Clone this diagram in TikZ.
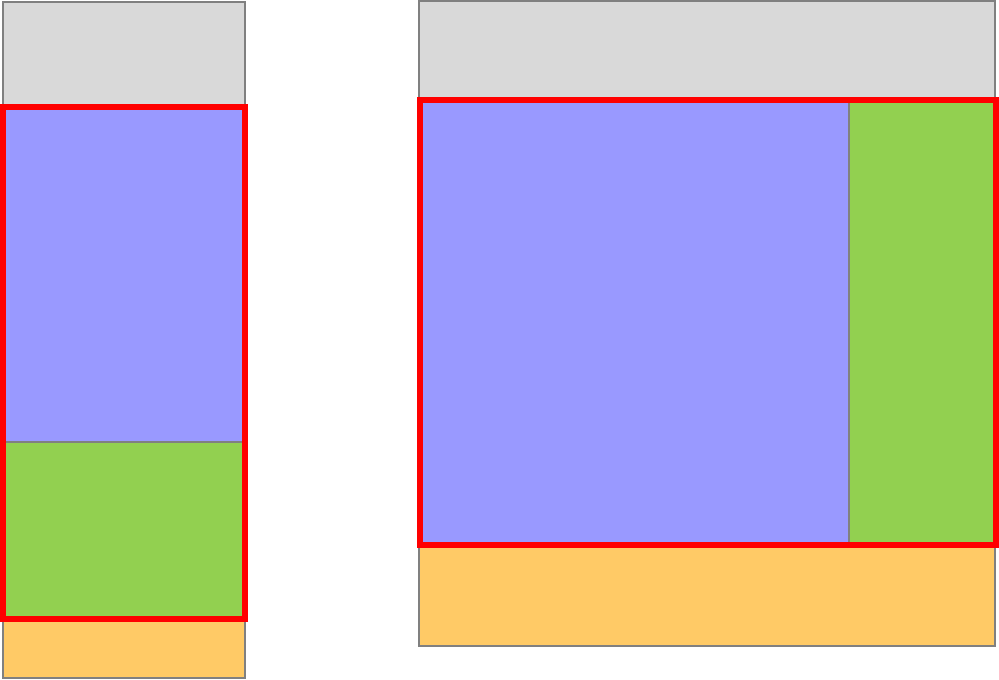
\documentclass[tikz,border=0pt]{standalone}
\usepackage{tikz}

\definecolor{boxgray}{HTML}{D9D9D9}
\definecolor{boxblue}{HTML}{9999FF}
\definecolor{boxgreen}{HTML}{92D050}
\definecolor{boxorange}{HTML}{FFCA66}
\definecolor{boxedge}{HTML}{808080}

\begin{document}
\begin{tikzpicture}[x=0.01cm,y=-0.01cm]
        \useasboundingbox (0,0) rectangle (999,680);

        % Left column
        \foreach \c/\ya/\yb in {boxgray/2/107, boxblue/107/442, boxgreen/442/619, boxorange/619/678} {
            \filldraw[fill=\c,draw=boxedge,line width=0.6pt] (3,\ya) rectangle (245,\yb);
        }

        % Right column
        \filldraw[fill=boxgray,draw=boxedge,line width=0.6pt] (419,1) rectangle (995,100);
        \filldraw[fill=boxblue,draw=boxedge,line width=0.6pt] (419,100) rectangle (849,545);
        \filldraw[fill=boxgreen,draw=boxedge,line width=0.6pt] (849,100) rectangle (995,545);
        \filldraw[fill=boxorange,draw=boxedge,line width=0.6pt] (419,545) rectangle (995,646);

        % Frames
        \draw[red,line width=1.7pt] (3,107) rectangle (245,619);
        \draw[red,line width=1.7pt] (420,100) rectangle (996,545);
    \end{tikzpicture}
\end{document}
